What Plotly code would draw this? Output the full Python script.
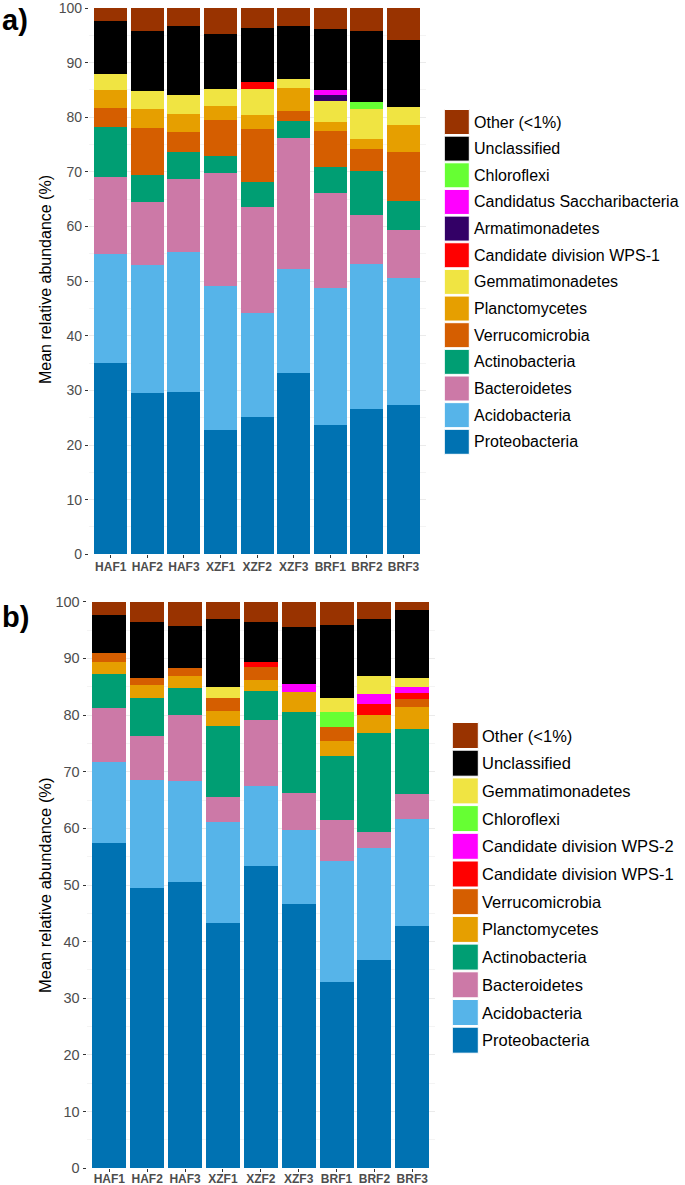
import plotly.graph_objects as go

FONT = "Liberation Sans, Arial, sans-serif"

samples = ["HAF1", "HAF2", "HAF3", "XZF1", "XZF2", "XZF3", "BRF1", "BRF2", "BRF3"]

# ---------------- Panel a (values in %, stacked bottom -> top) ----------------
a_phyla = ["Proteobacteria", "Acidobacteria", "Bacteroidetes", "Actinobacteria",
           "Verrucomicrobia", "Planctomycetes", "Gemmatimonadetes",
           "Candidate division WPS-1", "Armatimonadetes",
           "Candidatus Saccharibacteria", "Chloroflexi", "Unclassified", "Other (<1%)"]
a_proteo = [35.0, 29.5, 29.8, 22.8, 25.05, 33.1, 23.65, 26.6, 27.4]
a_acido = [20.0, 23.5, 25.6, 26.3, 19.15, 19.2, 25.05, 26.55, 23.15]
a_bacter = [14.0, 11.5, 13.3, 20.7, 19.4, 23.86, 17.5, 9.05, 8.85]
a_actino = [9.2, 5.0, 5.0, 3.2, 4.6, 3.17, 4.65, 7.9, 5.3]
a_verru = [3.45, 8.5, 3.6, 6.45, 9.7, 1.83, 6.59, 4.1, 8.96]
a_planc = [3.35, 3.6, 3.25, 2.55, 2.5, 4.21, 1.76, 1.84, 4.84]
a_gemma = [2.9, 3.16, 3.6, 3.2, 4.84, 1.7, 3.73, 5.48, 3.4]
a_wps1 = [0, 0, 0, 0, 1.26, 0, 0, 0, 0]
a_armat = [0, 0, 0, 0, 0, 0, 1.09, 0, 0]
a_sacch = [0, 0, 0, 0, 0, 0, 1.04, 0, 0]
a_chloro = [0, 0, 0, 0, 0, 0, 0, 1.22, 0]
a_uncl = [9.7, 11.04, 12.5, 10.04, 9.9, 9.63, 11.1, 13.06, 12.2]
a_other = [2.4, 4.2, 3.35, 4.76, 3.6, 3.3, 3.84, 4.2, 5.9]
a_values = [a_proteo, a_acido, a_bacter, a_actino, a_verru, a_planc, a_gemma,
            a_wps1, a_armat, a_sacch, a_chloro, a_uncl, a_other]
a_legend_order = ["Other (<1%)", "Unclassified", "Chloroflexi", "Candidatus Saccharibacteria",
                  "Armatimonadetes", "Candidate division WPS-1", "Gemmatimonadetes",
                  "Planctomycetes", "Verrucomicrobia", "Actinobacteria", "Bacteroidetes",
                  "Acidobacteria", "Proteobacteria"]

# ---------------- Panel b ----------------
b_phyla = ["Proteobacteria", "Acidobacteria", "Bacteroidetes", "Actinobacteria",
           "Planctomycetes", "Verrucomicrobia", "Candidate division WPS-1",
           "Candidate division WPS-2", "Chloroflexi", "Gemmatimonadetes",
           "Unclassified", "Other (<1%)"]
b_proteo = [57.35, 49.47, 50.47, 43.35, 53.35, 46.65, 32.94, 36.76, 42.7]
b_acido = [14.35, 19.13, 17.93, 17.83, 14.15, 13.05, 21.24, 19.71, 18.95]
b_bacter = [9.55, 7.7, 11.6, 4.29, 11.65, 6.6, 7.29, 2.83, 4.45]
b_actino = [5.98, 6.7, 4.7, 12.53, 5.09, 14.25, 11.23, 17.56, 11.46]
b_planc = [2.11, 2.24, 2.1, 2.7, 1.99, 3.52, 2.64, 3.14, 3.84]
b_verru = [1.58, 1.36, 1.5, 2.25, 2.17, 0, 2.52, 0, 1.44]
b_wps1 = [0, 0, 0, 0, 1.0, 0, 0, 1.9, 0.99]
b_wps2 = [0, 0, 0, 0, 0, 1.33, 0, 1.8, 1.17]
b_chloro = [0, 0, 0, 0, 0, 0, 2.69, 0, 0]
b_gemma = [0, 0, 0, 1.99, 0, 0, 2.4, 3.1, 1.53]
b_uncl = [6.74, 9.77, 7.5, 12.01, 7.1, 10.1, 12.95, 10.15, 11.95]
b_other = [2.34, 3.63, 4.2, 3.05, 3.5, 4.5, 4.1, 3.05, 1.52]
b_values = [b_proteo, b_acido, b_bacter, b_actino, b_planc, b_verru, b_wps1,
            b_wps2, b_chloro, b_gemma, b_uncl, b_other]
b_legend_order = ["Other (<1%)", "Unclassified", "Gemmatimonadetes", "Chloroflexi",
                  "Candidate division WPS-2", "Candidate division WPS-1", "Verrucomicrobia",
                  "Planctomycetes", "Actinobacteria", "Bacteroidetes", "Acidobacteria",
                  "Proteobacteria"]

colors = {
    "Proteobacteria": "#0072B2",
    "Acidobacteria": "#56B4E9",
    "Bacteroidetes": "#CC79A7",
    "Actinobacteria": "#009E73",
    "Verrucomicrobia": "#D55E00",
    "Planctomycetes": "#E69F00",
    "Gemmatimonadetes": "#F0E442",
    "Candidate division WPS-1": "#FF0000",
    "Armatimonadetes": "#330066",
    "Candidatus Saccharibacteria": "#FF00FF",
    "Candidate division WPS-2": "#FF00FF",
    "Chloroflexi": "#66FF33",
    "Unclassified": "#000000",
    "Other (<1%)": "#993300",
}

W, H = 685, 1185


def px_x(p):
    return p / W


def px_y(p):
    return 1 - p / H


fig = go.Figure()

for name, vals in zip(a_phyla, a_values):
    fig.add_trace(go.Bar(x=samples, y=vals, name=name, marker=dict(color=colors[name], line=dict(width=0)),
                         xaxis="x", yaxis="y", showlegend=False))
for name, vals in zip(b_phyla, b_values):
    fig.add_trace(go.Bar(x=samples, y=vals, name=name, marker=dict(color=colors[name], line=dict(width=0)),
                         xaxis="x2", yaxis="y2", showlegend=False))

yax = dict(range=[0, 100], tickvals=list(range(0, 101, 10)), ticks="outside", ticklen=3,
           tickcolor="#333333", tickfont=dict(family=FONT, size=14, color="#4d4d4d"),
           ticklabeloverflow="allow",
           showgrid=True, gridcolor="#ebebeb", gridwidth=1, zeroline=False, showline=False,
           minor=dict(dtick=5, showgrid=True, gridcolor="#f4f4f4", ticks=""),
           automargin=False, fixedrange=True)
xax = dict(type="category", range=[-0.6, 8.6], ticks="outside", ticklen=3, tickcolor="#333333",
           tickfont=dict(family=FONT, size=12, color="#4d4d4d", weight="bold"),
           ticklabeloverflow="allow", ticklabelstandoff=-2,
           showgrid=False, zeroline=False, showline=False, automargin=False, fixedrange=True)

fig.update_layout(
    width=W, height=H, margin=dict(l=0, r=0, t=0, b=0),
    paper_bgcolor="white", plot_bgcolor="white",
    barmode="stack", bargap=0.1, showlegend=False,
    xaxis=dict(xax, domain=[px_x(88.8), px_x(425.5)], anchor="y"),
    yaxis=dict(yax, domain=[px_y(554.3), px_y(8)], anchor="x"),
    xaxis2=dict(xax, domain=[px_x(86.6), px_x(435)], anchor="y2", ticklabelstandoff=-4,
                tickfont=dict(family=FONT, size=12, color="#4d4d4d", weight="bold")),
    yaxis2=dict(yax, domain=[px_y(1168.3), px_y(601.7)], anchor="x2",
                tickfont=dict(family=FONT, size=14.5, color="#4d4d4d")),
)

shapes = []
annotations = []


def add_legend(order, key_x0, key_x1, first_center, step, text_x, fsize):
    half = (key_x1 - key_x0) / 2
    for i, name in enumerate(order):
        cy = first_center + i * step
        shapes.append(dict(type="rect", xref="paper", yref="paper",
                           x0=px_x(key_x0), x1=px_x(key_x1),
                           y0=px_y(cy + half), y1=px_y(cy - half),
                           fillcolor=colors[name], line=dict(color="white", width=1)))
        annotations.append(dict(xref="paper", yref="paper", x=px_x(text_x), y=px_y(cy),
                                xanchor="left", yanchor="middle", text=name, showarrow=False,
                                font=dict(family=FONT, size=fsize, color="black")))


add_legend(a_legend_order, 444.3, 469.3, 122.0, 26.65, 472, 16)
add_legend(b_legend_order, 452.3, 478.3, 735.5, 27.7, 480, 16.5)

# axis titles
for cy, fs in [(280, 16), (885, 16.5)]:
    annotations.append(dict(xref="paper", yref="paper", x=px_x(45), y=px_y(cy), textangle=-90,
                            xanchor="center", yanchor="middle", showarrow=False,
                            text="Mean relative abundance (%)",
                            font=dict(family=FONT, size=fs, color="black")))
# panel letters
annotations.append(dict(xref="paper", yref="paper", x=0, y=px_y(20), xanchor="left", yanchor="middle",
                        showarrow=False, text="<b>a)</b>", font=dict(family=FONT, size=29, color="black")))
annotations.append(dict(xref="paper", yref="paper", x=0, y=px_y(617), xanchor="left", yanchor="middle",
                        showarrow=False, text="<b>b)</b>", font=dict(family=FONT, size=29, color="black")))

fig.update_layout(shapes=shapes, annotations=annotations)
fig.write_html("out.html", config={"displayModeBar": False, "staticPlot": False},
               post_script="document.body.style.margin='0';document.body.style.overflow='hidden';")
